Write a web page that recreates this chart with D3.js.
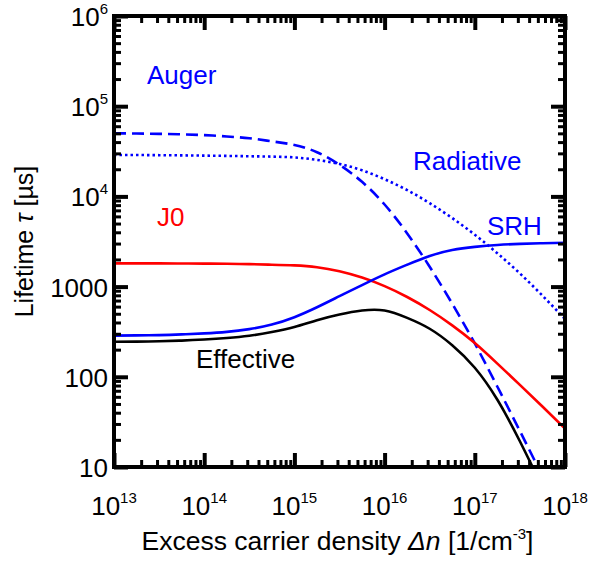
<!DOCTYPE html>
<html>
<head>
<meta charset="utf-8">
<script src="https://cdn.jsdelivr.net/npm/d3@7"></script>
<style>
    body { margin: 0; background: #fff; }
    svg { display: block; font-family: "Liberation Sans", Arial, sans-serif; }
</style>
</head>
<body>
<div id="chart"></div>
<script>
//
//  Lifetime vs excess carrier density, log-log, with the single
//  recombination channels and the effective lifetime.
//

    // excess carrier density (1/cm^3), quarter-decade grid shared by all curves
var density = [1e13, 1.78e13, 3.16e13, 5.62e13, 1e14, 1.78e14, 3.16e14, 5.62e14,
               1e15, 1.78e15, 3.16e15, 5.62e15, 1e16, 1.78e16, 3.16e16, 5.62e16,
               1e17, 1.78e17, 3.16e17, 5.62e17, 1e18];

    // lifetimes in us
var tauAuger     = [50000, 49800, 49400, 48800, 47800, 46200, 44100, 40800,
                    37200, 30900, 22400, 14500, 8130, 3890, 1660, 646,
                    234, 77.6, 25.1, 7.94, 2.51];
var tauRadiative = [28840, 28770, 28640, 28510, 28310, 28120, 27860, 27610,
                    27040, 25410, 22910, 19500, 15490, 11750, 8410, 5750,
                    3760, 2340, 1400, 794, 437];
var tauJ0        = [1811, 1810, 1807, 1803, 1799, 1791, 1774, 1750,
                    1718, 1641, 1479, 1259, 1012, 767, 550, 372,
                    237, 140, 81.3, 46.8, 26.7];
var tauSRH       = [286, 288, 290, 295, 303, 315, 338, 380,
                    458, 590, 783, 1040, 1368, 1750, 2188, 2541,
                    2754, 2897, 2979, 3027, 3062];
var tauEffective = [245, 245.5, 248, 252, 259, 269, 285, 314,
                    357, 424, 490, 543, 543, 450, 341, 224,
                    126, 55.6, 19.3, 5.96, 1.84];

var xMajor = [1e13, 1e14, 1e15, 1e16, 1e17, 1e18];
var xExp   = ["13", "14", "15", "16", "17", "18"];
var yMajor = [10, 100, 1000, 1e4, 1e5, 1e6];
var yBase  = ["10", "100", "1000", "10", "10", "10"];
var yExp   = ["", "", "", "4", "5", "6"];

var series = [
    { name: "Auger",     tau: tauAuger,     color: "#0000ff", dash: "12,6" },
    { name: "Radiative", tau: tauRadiative, color: "#0000ff", dash: "2.5,3" },
    { name: "J0",        tau: tauJ0,        color: "#ff0000", dash: null },
    { name: "SRH",       tau: tauSRH,       color: "#0000ff", dash: null },
    { name: "Effective", tau: tauEffective, color: "#000000", dash: null }
];

    // curve labels placed inside the plot
var labels = [
    { text: "Auger",     x: 147, y: 84,  color: "#0000ff" },
    { text: "Radiative", x: 413, y: 170, color: "#0000ff" },
    { text: "SRH",       x: 487, y: 235, color: "#0000ff" },
    { text: "J0",        x: 157, y: 226, color: "#ff0000" },
    { text: "Effective", x: 196, y: 368, color: "#000000" }
];

var W = 590, H = 561;
    // plot box (note: "top" is taken by window.top)
var pLeft = 114, pRight = 565, pTop = 16, pBottom = 467;

var svg = d3.select("#chart").append("svg")
    .attr("width", W)
    .attr("height", H);

var x = d3.scaleLog().domain([1e13, 1e18]).range([pLeft, pRight]);
var y = d3.scaleLog().domain([10, 1e6]).range([pBottom, pTop]);

    // minor ticks 2..9 of every decade
function minors(lo, hi) {
    var out = [];
    for (var e = lo; e < hi; e++)
        for (var k = 2; k <= 9; k++)
            out.push(k * Math.pow(10, e));
    return out;
}
var xMinor = minors(13, 18);
var yMinor = minors(1, 6);

svg.append("clipPath").attr("id", "plotclip")
    .append("rect")
    .attr("x", pLeft).attr("y", pTop)
    .attr("width", pRight - pLeft).attr("height", pBottom - pTop);

    // the curves
var line = d3.line()
    .x(function(d) { return x(d[0]); })
    .y(function(d) { return y(d[1]); })
    .curve(d3.curveNatural);

var curves = svg.append("g").attr("clip-path", "url(#plotclip)");
series.forEach(function(s) {
    var pts = density.map(function(n, i) { return [n, s.tau[i]]; });
    curves.append("path")
        .datum(pts)
        .attr("d", line)
        .attr("fill", "none")
        .attr("stroke", s.color)
        .attr("stroke-width", 2.6)
        .attr("stroke-dasharray", s.dash);
});

    // ticks on all four sides, pointing inward
function tickAxis(axis, scale, values, len, width, tx, ty) {
    var g = svg.append("g")
        .attr("transform", "translate(" + tx + "," + ty + ")")
        .call(axis(scale).tickValues(values).tickSizeInner(-len).tickSizeOuter(0).tickFormat(""));
    g.select(".domain").remove();
    g.selectAll(".tick line").attr("stroke", "#000").attr("stroke-width", width);
}
tickAxis(d3.axisBottom, x, xMinor, 7, 3, 0, pBottom);
tickAxis(d3.axisBottom, x, xMajor, 14, 4, 0, pBottom);
tickAxis(d3.axisTop, x, xMinor, 7, 3, 0, pTop);
tickAxis(d3.axisTop, x, xMajor, 14, 4, 0, pTop);
tickAxis(d3.axisLeft, y, yMinor, 7, 3, pLeft, 0);
tickAxis(d3.axisLeft, y, yMajor, 14, 4, pLeft, 0);
tickAxis(d3.axisRight, y, yMinor, 7, 3, pRight, 0);
tickAxis(d3.axisRight, y, yMajor, 14, 4, pRight, 0);

    // frame
svg.append("rect")
    .attr("x", pLeft).attr("y", pTop)
    .attr("width", pRight - pLeft).attr("height", pBottom - pTop)
    .attr("fill", "none")
    .attr("stroke", "#000")
    .attr("stroke-width", 4);

    // tick labels with superscripts
xMajor.forEach(function(v, i) {
    var t = svg.append("text")
        .attr("x", x(v)).attr("y", 515)
        .attr("text-anchor", "middle")
        .attr("font-size", 26)
        .text("10");
    t.append("tspan").attr("dy", -12).attr("font-size", 15).text(xExp[i]);
});

yMajor.forEach(function(v, i) {
    var t = svg.append("text")
        .attr("x", 108).attr("y", y(v) + 10)
        .attr("text-anchor", "end")
        .attr("font-size", 26)
        .text(yBase[i]);
    if (yExp[i])
        t.append("tspan").attr("dy", -12).attr("font-size", 15).text(yExp[i]);
});

    // axis titles
var xt = svg.append("text")
    .attr("x", (pLeft + pRight) / 2 - 2).attr("y", 550)
    .attr("text-anchor", "middle")
    .attr("font-size", 26.5);
xt.append("tspan").text("Excess carrier density  ");
xt.append("tspan").attr("font-style", "italic").text("\u0394n");
xt.append("tspan").text(" [1/cm");
xt.append("tspan").attr("dy", -11).attr("font-size", 15).text("-3");
xt.append("tspan").attr("dy", 11).text("]");

var yt = svg.append("text")
    .attr("transform", "translate(33," + ((pTop + pBottom) / 2) + ") rotate(-90)")
    .attr("text-anchor", "middle")
    .attr("font-size", 25);
yt.append("tspan").text("Lifetime ");
yt.append("tspan").attr("font-style", "italic").text("\u03c4");
yt.append("tspan").text(" [\u00b5s]");

    // curve names
labels.forEach(function(l) {
    svg.append("text")
        .attr("x", l.x).attr("y", l.y)
        .attr("font-size", 26)
        .attr("fill", l.color)
        .text(l.text);
});
</script>
</body>
</html>
